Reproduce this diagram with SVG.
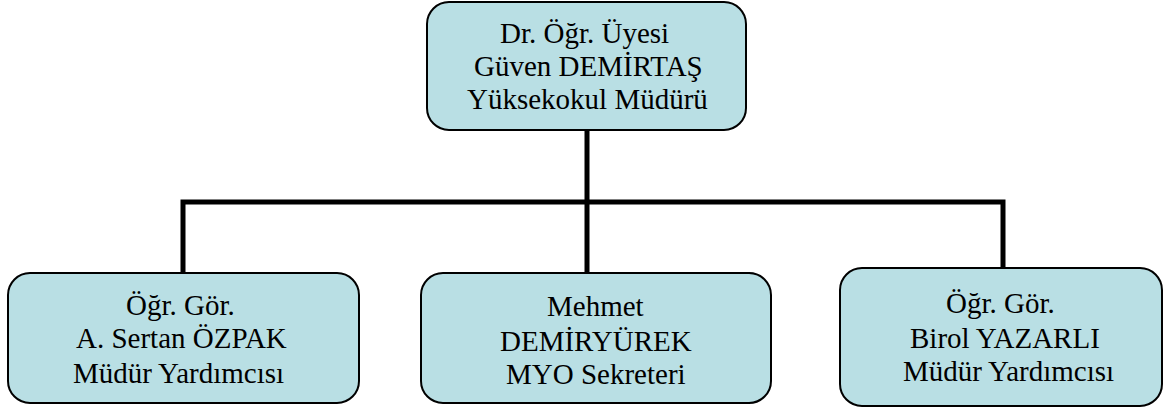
<svg xmlns="http://www.w3.org/2000/svg" width="1164" height="410" viewBox="0 0 1164 410">
<rect width="1164" height="410" fill="#fff"/>
<g id="connectors" stroke="#000" stroke-width="5" fill="none" stroke-linecap="square">
<path d="M587 131 V202 M183 202 H1003 M183 202 V272 M587 202 V272 M1003 202 V267"/>
</g>
<g id="node-top">
<rect fill="#b9dfe4" stroke="#000" stroke-width="2" x="427" y="2" width="319" height="128" rx="22"/>
<text style="font-family:'Liberation Serif','Times New Roman',serif;font-size:29px" x="500" y="43">Dr. Öğr. Üyesi</text>
<text style="font-family:'Liberation Serif','Times New Roman',serif;font-size:29px" x="474" y="76">Güven DEMİRTAŞ</text>
<text style="font-family:'Liberation Serif','Times New Roman',serif;font-size:29px" x="467" y="109">Yüksekokul Müdürü</text>
</g>
<g id="node-left">
<rect fill="#b9dfe4" stroke="#000" stroke-width="2" x="8" y="273" width="351" height="130" rx="22"/>
<text style="font-family:'Liberation Serif','Times New Roman',serif;font-size:29px" x="126" y="315">Öğr. Gör.</text>
<text style="font-family:'Liberation Serif','Times New Roman',serif;font-size:29px" x="76" y="348">A. Sertan ÖZPAK</text>
<text style="font-family:'Liberation Serif','Times New Roman',serif;font-size:29px" x="73" y="383">Müdür Yardımcısı</text>
</g>
<g id="node-middle">
<rect fill="#b9dfe4" stroke="#000" stroke-width="2" x="421" y="273" width="350" height="130" rx="22"/>
<text style="font-family:'Liberation Serif','Times New Roman',serif;font-size:29px" x="547" y="316">Mehmet</text>
<text style="font-family:'Liberation Serif','Times New Roman',serif;font-size:29px" x="500" y="351">DEMİRYÜREK</text>
<text style="font-family:'Liberation Serif','Times New Roman',serif;font-size:29px" x="506" y="384">MYO Sekreteri</text>
</g>
<g id="node-right">
<rect fill="#b9dfe4" stroke="#000" stroke-width="2" x="840" y="268" width="322" height="138" rx="22"/>
<text style="font-family:'Liberation Serif','Times New Roman',serif;font-size:29px" x="946" y="313">Öğr. Gör.</text>
<text style="font-family:'Liberation Serif','Times New Roman',serif;font-size:29px" x="910" y="348">Birol YAZARLI</text>
<text style="font-family:'Liberation Serif','Times New Roman',serif;font-size:29px" x="903" y="381">Müdür Yardımcısı</text>
</g>
</svg>
